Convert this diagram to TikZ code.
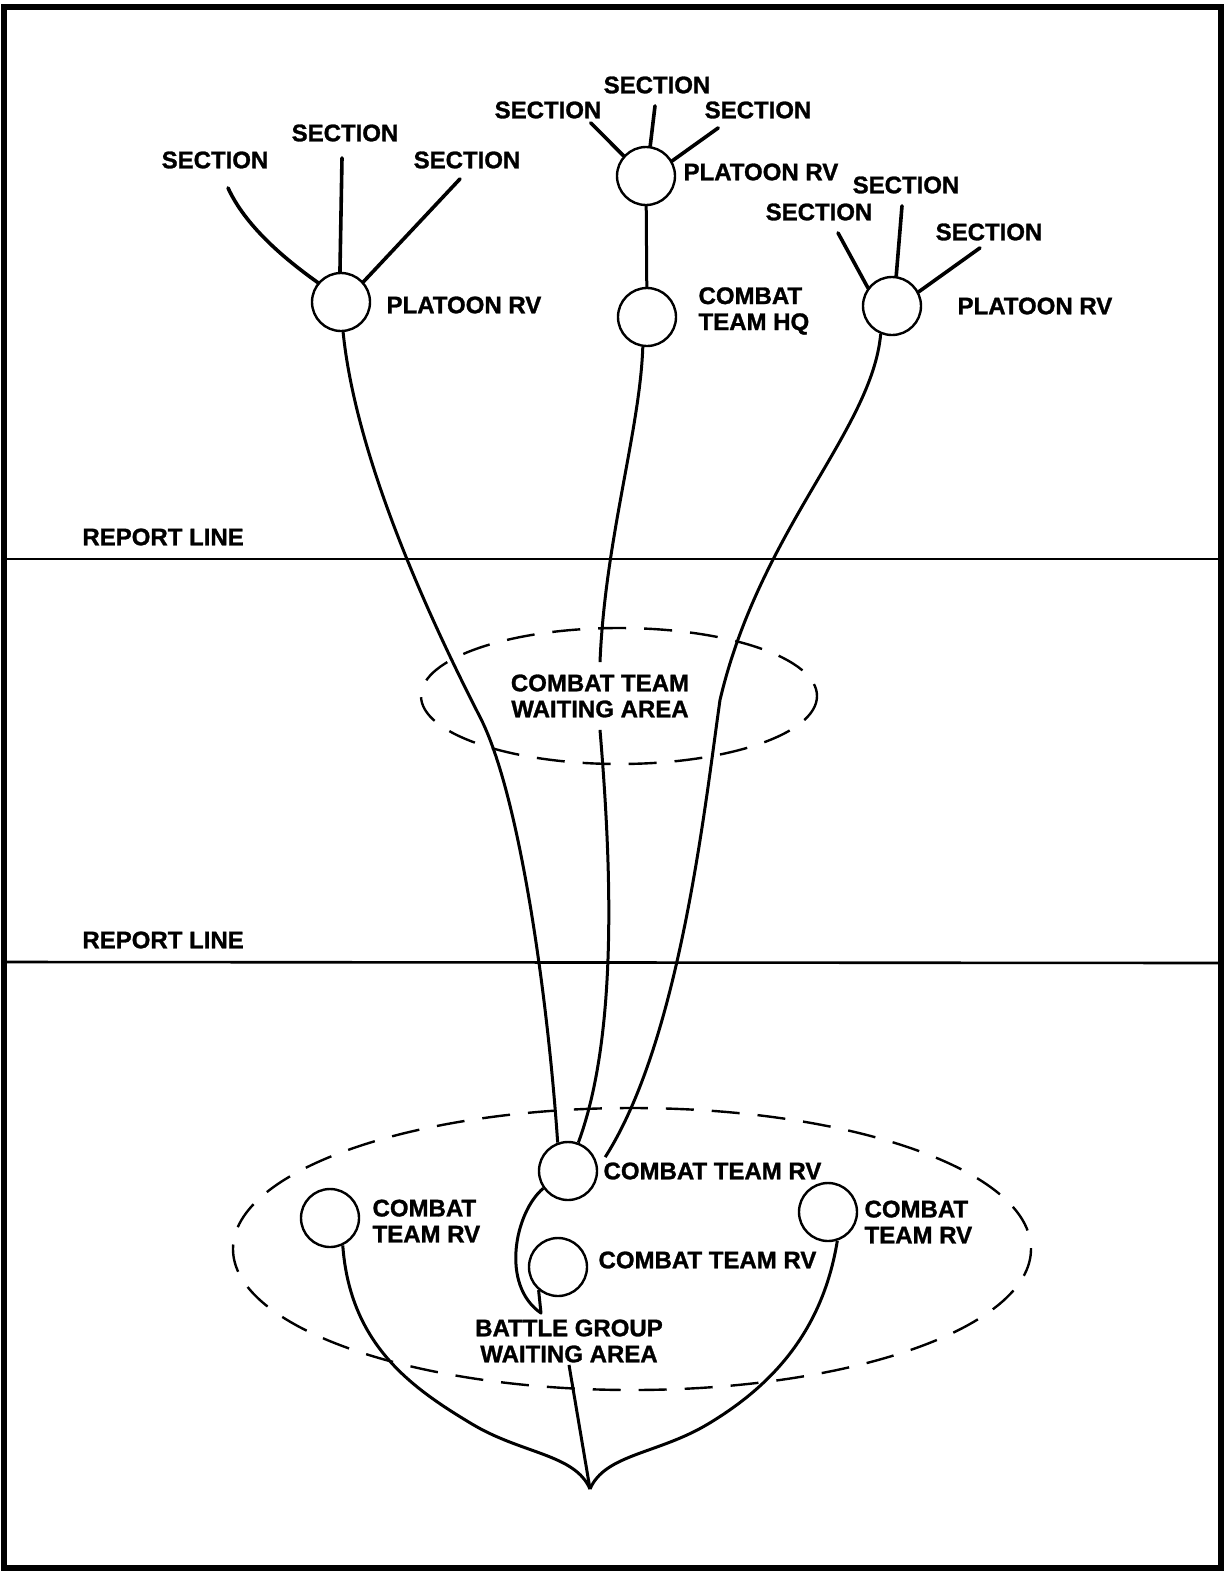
\documentclass[tikz,border=0pt]{standalone}
\usepackage{fontspec}
\setmainfont{Liberation Sans}[BoldFeatures={FakeBold=1.2}]
\usetikzlibrary{positioning}
\tikzset{
  rv/.style={circle,draw,line width=1.2pt,minimum size=29pt,inner sep=0pt},
  lbl/.style={font=\bfseries\fontsize{12}{13}\selectfont,inner sep=1pt,align=left},
  route/.style={line width=1.5pt,line join=round},
  twig/.style={line width=1.8pt,line cap=round},
  area/.style={line width=1.2pt,dash pattern=on 14pt off 9pt}
}
\begin{document}
\begin{tikzpicture}[x=0.5pt,y=-0.5pt]
\useasboundingbox (0,0) rectangle (1225,1575);
\draw[line width=3pt] (4,7) rectangle (1221,1568);
\draw[line width=1.3pt] (4,559) -- (1221,559);
\draw[line width=1.3pt] (4,962) -- (1221,963);
\node[lbl,anchor=west] (rl1) at (80,537) {REPORT LINE};
\node[lbl,anchor=west] (rl2) at (80,940) {REPORT LINE};

\node[rv] (plA) at (341,302) {};
\node[rv] (plB) at (646,176) {};
\node[rv] (hq) at (647,317) {};
\node[rv] (plC) at (892,306) {};
\node[lbl,right=6.5pt of plA,yshift=-1.5pt] (plAl) {PLATOON RV};
\node[lbl,right=2.5pt of plB,yshift=2pt] (plBl) {PLATOON RV};
\node[lbl,right=9.5pt of hq,yshift=3pt] (hql) {COMBAT\\TEAM HQ};
\node[lbl,right=16.5pt of plC] (plCl) {PLATOON RV};

\node[lbl] (sA1) at (215,160) {SECTION};
\node[lbl] (sA2) at (345,133) {SECTION};
\node[lbl] (sA3) at (467,160) {SECTION};
\node[lbl] (sB1) at (548,110) {SECTION};
\node[lbl] (sB2) at (657,85) {SECTION};
\node[lbl] (sB3) at (758,110) {SECTION};
\node[lbl] (sC1) at (819,212) {SECTION};
\node[lbl] (sC2) at (906,185) {SECTION};
\node[lbl] (sC3) at (989,232) {SECTION};

\draw[twig] ([shift={(13,17)}]sA1.south) .. controls (245,225) and (282,257) .. (plA.140);
\draw[twig] ([shift={(-3,14)}]sA2.south) -- (plA.92);
\draw[twig] ([shift={(-7,8)}]sA3.south) -- (plA.42);
\draw[twig] ([shift={(-13,2)}]sB1.south east) -- (plB.138);
\draw[twig] ([shift={(-2,10)}]sB2.south) -- (plB.82);
\draw[twig] ([shift={(16,7)}]sB3.south west) -- (plB.30);
\draw[twig] ([shift={(19,10)}]sC1.south) -- (plC.143);
\draw[twig] ([shift={(-4,10)}]sC2.south) -- (plC.82);
\draw[twig] ([shift={(-9,5)}]sC3.south) -- (plC.28);
\draw[route] (plB) -- (hq);

\node[rv] (ctA) at (568,1171) {};
\node[rv] (ctB) at (558,1267) {};
\node[rv] (ctL) at (330,1218) {};
\node[rv] (ctR) at (828,1212) {};
\node[lbl,right=1.5pt of ctA] (ctAl) {COMBAT TEAM RV};
\node[lbl,right=4pt of ctB,yshift=3.5pt] (ctBl) {COMBAT TEAM RV};
\node[lbl,right=5pt of ctL,yshift=-1.5pt] (ctLl) {COMBAT\\TEAM RV};
\node[lbl,right=2pt of ctR,yshift=-5pt] (ctRl) {COMBAT\\TEAM RV};
\node[lbl,align=center] (bgwa) at (569,1341) {BATTLE GROUP\\WAITING AREA};
\node[lbl,align=center,inner ysep=6pt] (ctwa) at (600,696) {COMBAT TEAM\\WAITING AREA};
\coordinate (apex) at (590,1489);
\coordinate (hook) at ([shift={(-28,-4)}]bgwa.north);

\draw[area] (619,696) ellipse [x radius=198,y radius=68];
\draw[area] (632,1249) ellipse [x radius=399,y radius=141];

\draw[route] (plA.-86) .. controls (355,450) and (420,600) .. (480,717) .. controls (520,795) and (548,1000) .. (ctA.110);
\draw[route] (hq.-98) .. controls (640,430) and (605,540) .. (ctwa.north);
\draw[route] (ctwa.south) .. controls (610,850) and (620,1030) .. (ctA.70);
\draw[route] (plC.-112) .. controls (872,430) and (760,530) .. (720,700) .. controls (705,805) and (680,1040) .. ([shift={(4,-3)}]ctAl.north west);
\draw[route] (ctA.215) .. controls (515,1212) and (500,1285) .. (hook) -- (ctB.230);
\draw[route] (ctL.-65) .. controls (350,1345) and (412,1388) .. (472,1424) .. controls (522,1454) and (575,1454) .. (apex);
\draw[route] (ctR.-72) .. controls (822,1335) and (768,1388) .. (708,1424) .. controls (658,1454) and (605,1454) .. (apex);
\draw[route] (bgwa.south) -- (apex);
\end{tikzpicture}
\end{document}
